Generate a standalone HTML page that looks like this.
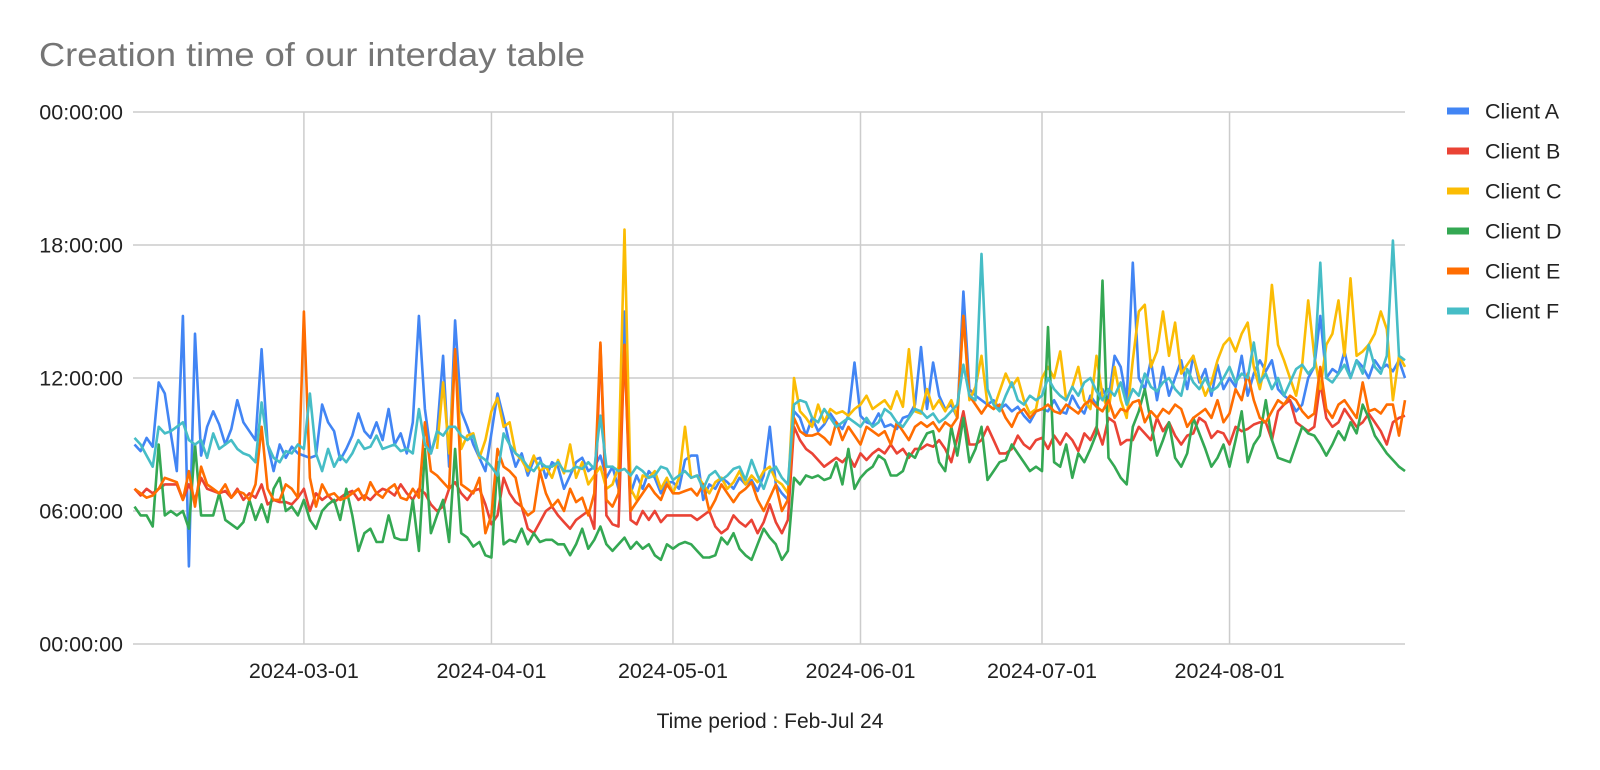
<!DOCTYPE html>
<html><head><meta charset="utf-8">
<style>
html,body{margin:0;padding:0;background:#fff;}
svg{display:block;font-family:"Liberation Sans",Arial,sans-serif;}
</style></head>
<body>
<svg id="chart" width="1600" height="770" viewBox="0 0 1600 770" xmlns="http://www.w3.org/2000/svg">
<text x="39" y="66" font-size="33" fill="#757575" textLength="546" lengthAdjust="spacingAndGlyphs">Creation time of our interday table</text>
<g id="grid"></g>
<g id="yaxis"></g>
<g id="xaxis"></g>
<g id="series"></g>
<g id="legend"></g>
<text x="770" y="728" font-size="21" fill="#222" text-anchor="middle">Time period : Feb-Jul 24</text>
</svg>
<script>
const seriesNames = ["Client A","Client B","Client C","Client D","Client E","Client F"];
const seriesColors = ["#4285f4","#ea4335","#fbbc04","#34a853","#ff6d01","#46bdc6"];
const yTickHours = [0,6,12,18,24];
const yTickLabels = ["00:00:00","06:00:00","12:00:00","18:00:00","00:00:00"];
const xTickDayIndex = [28,59,89,120,150,181];
const xTickLabels = ["2024-03-01","2024-04-01","2024-05-01","2024-06-01","2024-07-01","2024-08-01"];
const clientA = [9.0,8.7,9.3,8.9,11.8,11.3,9.5,7.8,14.8,3.5,
14.0,8.5,9.8,10.5,9.9,9.0,9.7,11.0,10.0,9.6,
9.2,13.3,9.0,7.8,9.0,8.4,8.9,8.6,8.5,8.4,
8.5,10.8,10.0,9.6,8.3,8.8,9.4,10.4,9.6,9.3,
10.0,9.2,10.6,9.0,9.5,8.6,10.0,14.8,10.6,8.6,
9.5,13.0,8.0,14.6,10.5,9.8,9.0,8.4,7.8,9.5,
11.3,10.2,9.0,8.0,8.6,7.6,8.3,8.4,7.5,8.2,
8.0,7.0,7.6,8.2,8.4,7.8,8.0,8.5,7.5,8.0,
7.0,15.0,6.8,7.6,7.0,7.8,7.5,6.8,7.3,7.3,
7.0,8.3,8.5,8.5,6.5,7.2,7.0,7.5,7.3,7.0,
7.5,7.2,7.4,6.9,7.6,9.8,7.2,6.8,6.5,10.5,
10.2,9.4,10.2,9.6,9.9,10.4,10.0,9.7,10.3,12.7,
10.3,10.0,9.9,10.4,9.8,9.9,9.7,10.2,10.3,10.8,
13.4,10.6,12.7,11.2,10.6,10.8,10.2,15.9,11.5,11.2,
11.0,10.8,11.0,10.6,10.8,10.5,10.7,10.3,10.0,10.5,
10.6,10.5,11.0,10.5,10.4,11.2,10.7,10.4,11.2,10.8,
11.5,11.0,13.0,12.5,11.0,17.2,12.0,11.5,12.8,11.0,
12.5,11.2,12.0,12.8,11.5,13.0,11.8,12.4,11.2,12.6,
11.5,12.0,11.6,13.0,11.2,12.2,12.8,12.3,12.8,11.5,
11.2,11.0,10.5,10.8,12.0,12.5,14.8,12.0,12.4,12.2,
13.2,12.0,12.8,12.5,12.0,12.8,12.4,12.6,12.3,12.8,12.0];
const clientB = [7.0,6.7,7.0,6.8,7.0,7.2,7.2,7.2,6.5,7.2,
6.5,7.5,7.0,6.9,6.8,6.9,6.6,7.0,6.5,6.8,
6.6,7.2,6.3,6.5,6.4,6.4,6.3,6.6,7.0,6.0,
6.8,6.5,6.7,6.4,6.6,6.8,6.9,6.5,6.7,6.5,
6.8,7.0,6.9,6.7,7.2,6.8,6.5,7.0,6.8,6.3,
6.0,6.2,7.0,7.3,6.8,6.5,6.9,7.0,6.3,5.4,
5.8,7.5,6.8,6.4,6.2,5.2,5.0,5.5,6.0,6.2,
5.8,5.5,5.2,5.6,5.8,6.0,5.2,13.5,5.8,5.4,
5.3,13.5,5.6,5.4,6.0,5.6,6.0,5.5,5.8,5.8,
5.8,5.8,5.8,5.6,5.8,6.0,5.3,5.0,5.2,5.8,
5.5,5.3,5.6,5.0,5.5,6.3,5.5,5.0,5.6,9.8,
9.2,8.8,8.6,8.3,8.0,8.2,8.4,8.2,8.5,8.0,
8.6,8.3,8.6,8.8,8.6,9.0,8.6,8.8,8.4,8.8,
8.8,9.0,8.9,9.2,8.8,8.2,9.3,10.5,9.0,9.0,
9.2,9.8,9.2,8.6,8.6,8.8,9.4,9.0,8.8,9.2,
9.3,8.8,9.4,9.0,9.5,9.2,8.7,9.5,9.2,9.8,
9.0,10.2,10.0,9.0,9.2,9.2,9.8,9.5,9.2,10.2,
9.6,10.0,9.4,9.0,9.4,9.5,10.2,10.0,9.3,9.6,
9.5,9.0,9.8,9.6,9.7,9.9,10.0,10.0,9.2,10.5,
10.8,11.0,10.0,9.8,9.6,9.8,11.8,10.2,9.8,10.0,
10.6,10.2,9.8,10.0,10.4,10.0,9.6,9.0,10.0,10.2,10.3];
const clientC = [null,null,null,null,null,null,null,null,null,null,
null,null,null,null,null,null,null,null,null,null,
null,null,null,null,null,null,null,null,null,null,
null,null,null,null,null,null,null,null,null,null,
null,null,null,null,null,null,null,null,null,null,
8.8,11.8,8.6,13.2,8.8,9.4,9.5,8.4,9.2,10.5,
11.1,9.8,10.0,8.6,8.3,7.8,8.5,7.8,8.0,7.5,
8.3,7.7,9.0,7.5,8.2,7.2,7.6,8.0,7.0,7.2,
8.0,18.7,7.0,6.5,7.6,7.5,7.8,7.0,7.5,6.8,
7.5,9.8,7.5,7.6,7.2,6.8,7.3,7.5,7.0,7.3,
7.8,7.2,7.6,7.3,7.8,8.0,7.4,7.2,6.8,12.0,
10.5,10.2,9.8,10.8,10.0,10.6,10.4,10.5,10.3,10.6,
10.8,11.2,10.6,10.8,11.0,10.6,11.4,10.7,13.3,10.5,
10.4,11.5,10.6,11.0,10.5,11.0,10.2,14.8,11.0,11.6,
13.0,10.8,10.6,11.4,12.2,11.6,12.0,11.0,10.4,10.6,
12.0,12.5,12.0,13.2,11.0,11.6,12.5,11.0,10.6,13.0,
11.2,10.5,12.5,11.0,10.2,12.8,15.0,15.3,12.5,13.2,
15.0,13.0,14.5,12.2,12.6,13.0,12.0,11.2,11.8,12.8,
13.5,13.8,13.2,14.0,14.5,12.5,11.5,12.8,16.2,13.5,
12.8,12.0,11.2,12.6,15.5,13.0,11.5,13.5,14.0,15.5,
13.0,16.5,13.0,13.2,13.5,14.0,15.0,14.2,11.0,13.0,12.5];
const clientD = [6.2,5.8,5.8,5.3,9.0,5.8,6.0,5.8,6.0,5.2,
9.0,5.8,5.8,5.8,6.8,5.6,5.4,5.2,5.5,6.5,
5.6,6.3,5.5,7.0,7.5,6.0,6.2,5.8,6.5,5.6,
5.2,6.0,6.3,6.5,5.6,7.0,5.8,4.2,5.0,5.2,
4.6,4.6,5.8,4.8,4.7,4.7,6.5,4.2,8.8,5.0,
5.8,6.5,4.6,8.8,5.0,4.8,4.4,4.6,4.0,3.9,
8.2,4.5,4.7,4.6,5.2,4.5,5.0,4.6,4.7,4.7,
4.5,4.5,4.0,4.5,5.2,4.3,4.7,5.3,4.5,4.2,
4.5,4.8,4.3,4.6,4.3,4.5,4.0,3.8,4.5,4.3,
4.5,4.6,4.5,4.2,3.9,3.9,4.0,4.8,4.5,5.0,
4.3,4.0,3.8,4.5,5.2,4.8,4.5,3.8,4.2,7.5,
7.2,7.6,7.5,7.6,7.4,7.5,8.2,7.2,8.8,7.0,
7.5,7.8,8.0,8.5,8.3,7.6,7.6,7.8,8.6,8.4,
9.0,9.5,9.6,8.2,7.8,9.8,8.5,10.2,8.2,8.8,
9.8,7.4,7.8,8.2,8.3,9.0,8.6,8.2,7.8,8.0,
7.8,14.3,8.2,8.0,9.0,7.5,8.6,8.2,8.8,9.5,
16.4,8.4,8.0,7.5,7.2,9.8,10.5,11.5,10.0,8.5,
9.2,10.0,8.4,8.0,8.6,10.2,9.5,8.8,8.0,8.4,
9.0,8.0,9.2,10.5,8.2,9.0,9.4,11.0,9.2,8.4,
8.3,8.2,9.0,9.8,9.5,9.4,9.0,8.5,9.0,9.6,
9.2,10.0,9.5,10.8,10.2,9.4,9.0,8.6,8.3,8.0,7.8];
const clientE = [7.0,6.8,6.6,6.7,7.0,7.5,7.4,7.3,6.5,7.8,
6.2,8.0,7.2,7.0,6.8,7.2,6.6,6.9,6.8,6.5,
7.2,9.8,7.0,6.5,6.5,7.2,7.0,6.6,15.0,7.5,
6.2,7.2,6.7,6.8,6.5,6.6,6.8,7.0,6.5,7.3,
6.8,6.6,7.0,7.2,6.6,6.5,7.0,6.6,10.0,7.8,
7.6,7.3,7.0,13.3,7.2,7.0,6.8,7.5,5.0,5.8,
8.8,8.0,7.8,7.5,6.2,5.8,6.0,7.8,6.8,6.2,
6.5,6.0,7.0,6.4,6.6,5.8,6.8,13.6,6.5,6.2,
6.8,13.5,6.0,6.4,6.8,7.2,6.8,6.5,7.2,6.8,
6.8,6.9,7.0,6.7,7.2,6.0,6.5,7.2,6.8,6.4,
6.8,7.0,7.3,6.5,6.0,6.6,7.2,6.0,6.5,10.2,
9.6,9.4,9.4,9.5,9.3,9.0,10.0,9.2,9.8,9.4,
9.0,9.8,9.6,9.4,9.6,9.0,10.0,9.6,9.2,9.8,
10.0,9.8,10.0,9.6,10.0,9.8,10.2,14.8,11.2,10.8,
10.4,10.8,10.6,10.8,10.2,9.8,10.4,10.6,10.2,10.5,
10.6,10.8,10.5,10.4,10.8,10.6,10.4,10.8,11.0,10.7,
10.5,11.0,10.2,10.6,10.5,10.9,11.0,10.0,10.5,10.2,
10.6,10.4,10.8,10.6,9.8,10.2,10.4,10.6,10.2,11.0,
10.0,10.4,11.5,11.0,12.2,11.0,10.2,10.0,10.5,11.0,
10.8,11.2,11.0,10.5,10.2,10.4,12.5,10.6,10.2,10.8,
11.0,10.6,10.2,11.8,10.5,10.6,10.4,10.8,10.8,9.4,11.0];
const clientF = [9.3,9.0,8.5,8.0,9.8,9.5,9.6,9.8,10.0,9.2,
9.0,9.2,8.4,9.5,8.8,9.0,9.2,8.8,8.6,8.5,
8.2,10.9,9.0,8.4,8.2,8.7,8.6,9.0,8.8,11.3,
8.6,7.8,8.8,8.0,8.5,8.2,8.6,9.2,8.8,8.9,
9.4,8.8,8.9,9.0,8.7,8.8,8.6,10.6,9.0,8.6,
9.6,9.4,9.8,9.8,9.4,9.2,9.4,8.5,8.3,8.0,
7.6,9.5,9.0,8.6,8.4,8.0,7.8,8.2,8.0,8.0,
8.2,7.8,7.8,8.0,7.9,8.2,7.9,10.3,8.0,8.0,
7.8,7.9,7.6,8.0,7.8,7.5,7.6,8.0,7.9,7.4,
7.6,7.8,7.5,7.6,7.0,7.6,7.8,7.4,7.6,7.9,
8.0,7.4,8.3,7.6,7.0,7.8,8.0,7.5,7.2,10.8,
11.0,10.9,10.2,10.0,10.6,10.2,9.8,10.0,10.2,10.0,
9.8,10.2,9.8,10.0,10.6,10.4,10.0,9.8,10.2,10.6,
10.5,10.2,10.4,10.0,10.2,10.5,10.8,12.6,11.2,11.0,
17.6,11.5,10.8,10.5,11.2,11.8,11.0,10.8,11.2,11.0,
11.2,12.0,11.5,11.2,11.0,11.6,11.2,11.8,12.0,11.4,
11.0,11.5,11.2,11.8,10.8,11.5,11.2,12.2,11.6,11.4,
11.8,12.0,11.5,11.2,12.4,11.8,11.5,12.0,11.4,11.6,
12.0,12.5,11.8,12.2,12.0,13.6,11.8,12.2,11.5,12.0,
11.2,11.8,12.4,12.6,12.2,12.5,17.2,12.0,11.8,12.2,
12.6,12.0,12.8,12.2,13.5,12.5,12.2,13.0,18.2,13.0,12.8];
const seriesData = [clientA,clientB,clientC,clientD,clientE,clientF];

const NS = "http://www.w3.org/2000/svg";
const plotLeft = 133, plotRight = 1405, plotTop = 112, plotBottom = 644;
const dayCount = 211;
function xScale(i){ return 134.5 + i * (plotRight - 134.5) / (dayCount - 1); }
function yScale(h){ return plotBottom - h * (plotBottom - plotTop) / 24; }
function mk(tag, attrs){ const e = document.createElementNS(NS, tag); for (const k in attrs) e.setAttribute(k, attrs[k]); return e; }

const grid = document.getElementById('grid');
yTickHours.forEach((h, k) => {
  const ln = mk('line', {x1: plotLeft, x2: plotRight, y1: yScale(h), y2: yScale(h), stroke: '#cccccc', 'stroke-width': 1.5});
  
  
  grid.appendChild(ln);
  const t = mk('text', {x: 123, y: yScale(h) + 7.5, 'font-size': 21.5, fill: '#222', 'text-anchor': 'end'});
  t.textContent = yTickLabels[k];
  
  
  document.getElementById('yaxis').appendChild(t);
});
xTickDayIndex.forEach((d, k) => {
  const x = xScale(d);
  const ln = mk('line', {x1: x, x2: x, y1: plotTop, y2: plotBottom, stroke: '#cccccc', 'stroke-width': 1.5});
  
  
  grid.appendChild(ln);
  const t = mk('text', {x: x, y: 678, 'font-size': 21.5, fill: '#222', 'text-anchor': 'middle'});
  t.textContent = xTickLabels[k];
  
  
  document.getElementById('xaxis').appendChild(t);
});

const sg = document.getElementById('series');
seriesData.forEach((arr, s) => {
  let d = '', pen = false;
  arr.forEach((v, i) => {
    if (v === null) { pen = false; return; }
    d += (pen ? 'L' : 'M') + xScale(i).toFixed(1) + ' ' + yScale(v).toFixed(1) + ' ';
    pen = true;
  });
  const p = mk('path', {d: d, fill: 'none', stroke: seriesColors[s], 'stroke-width': 2.6, 'stroke-linejoin': 'round'});
  
  
  sg.appendChild(p);
});

const lg = document.getElementById('legend');
seriesNames.forEach((n, s) => {
  const y = 111 + s * 40;
  const g = mk('g', {});
  
  
  const r = mk('rect', {x: 1447, y: y - 3.5, width: 22, height: 7, fill: seriesColors[s]});
  
  
  const t = mk('text', {x: 1485, y: y + 7.5, 'font-size': 21.5, fill: '#222'});
  t.textContent = n;
  
  
  g.appendChild(r); g.appendChild(t);
  lg.appendChild(g);
});
</script>
</body></html>
